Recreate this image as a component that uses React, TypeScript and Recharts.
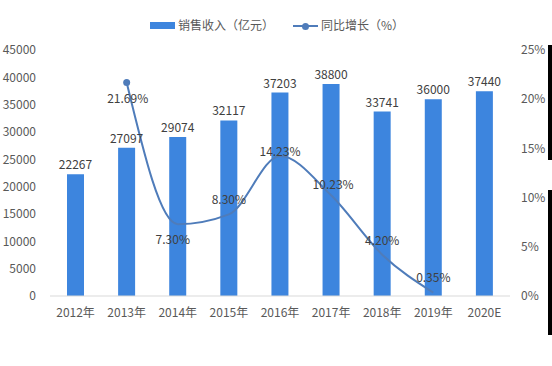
import { Bar, ComposedChart, LabelList, Line, XAxis, YAxis } from "recharts";

const years = ["2012年", "2013年", "2014年", "2015年", "2016年", "2017年", "2018年", "2019年", "2020E"];
const revenue = [22267, 27097, 29074, 32117, 37203, 38800, 33741, 36000, 37440];
const growth: (number | null)[] = [null, 21.69, 7.3, 8.3, 14.23, 10.23, 4.2, 0.35, null];
const leftTicks = [0, 5000, 10000, 15000, 20000, 25000, 30000, 35000, 40000, 45000];
const rightTicks = [0, 5, 10, 15, 20, 25];

// nudges for the growth labels, [dx, dy] per category
const growthLabelShift: [number, number][] = [
  [0, 0], [1, 15], [-5, 14], [0, -16], [0, -5], [2, -12], [0, -15], [0, -16], [0, 0]
];

const barColor = "#3d85de";
const lineColor = "#4f7cba";
const textColor = "#595959";
const font = "'Noto Sans CJK SC', 'Noto Sans', sans-serif";

const data = years.map((year, i) => ({ year, revenue: revenue[i], growth: growth[i] }));

function GrowthLabel(props: any) {
  const { x, y, index, value } = props;
  if (value == null) return null;
  const [dx, dy] = growthLabelShift[index] || [0, 0];
  return (
    <text x={x + dx} y={y + dy} textAnchor="middle" dominantBaseline="central" fontSize={12} fill="#404040" fontFamily={font}>
      {Number(value).toFixed(2)}%
    </text>
  );
}

function GrowthDot(props: any) {
  const { cx, cy, index } = props;
  if (index !== 1 || cy == null) return <g key={index} />;
  return <circle key={index} cx={cx} cy={cy} r={3.5} fill={lineColor} />;
}

export default function App() {
  return (
    <div style={{ position: "absolute", left: 0, top: 0, width: 552, height: 366, background: "#fff", fontFamily: font }}>
      <div style={{ position: "absolute", top: 16, left: 0, width: 552, height: 18, fontSize: 12, color: textColor }}>
        <span style={{ position: "absolute", left: 150, top: 6, width: 25, height: 7, background: barColor }} />
        <span style={{ position: "absolute", left: 178, top: 0 }}>销售收入（亿元）</span>
        <span style={{ position: "absolute", left: 293, top: 9, width: 25, height: 2, background: lineColor }} />
        <span style={{ position: "absolute", left: 302, top: 6.5, width: 7, height: 7, borderRadius: 4, background: lineColor }} />
        <span style={{ position: "absolute", left: 321, top: 0 }}>同比增长（%）</span>
      </div>
      <ComposedChart width={552} height={366} data={data} margin={{ top: 50, right: 0, bottom: 40, left: 0 }}>
        <XAxis
          dataKey="year"
          height={30}
          tickLine={false}
          axisLine={{ stroke: "#d9d9d9" }}
          tickMargin={6}
          tick={{ fontSize: 12, fill: textColor, fontFamily: font }}
          interval={0}
        />
        <YAxis
          yAxisId="left"
          width={50}
          domain={[0, 45000]}
          ticks={leftTicks}
          axisLine={false}
          tickLine={false}
          tickMargin={8}
          tick={{ fontSize: 12, fill: textColor, fontFamily: font }}
        />
        <YAxis
          yAxisId="right"
          orientation="right"
          width={42}
          domain={[0, 25]}
          ticks={rightTicks}
          axisLine={false}
          tickLine={false}
          tickMargin={5}
          tickFormatter={(v: number) => `${v}%`}
          tick={{ fontSize: 12, fill: textColor, fontFamily: font, textAnchor: "start" }}
        />
        <Bar yAxisId="left" dataKey="revenue" fill={barColor} barSize={17} isAnimationActive={false}>
          <LabelList dataKey="revenue" position="top" offset={5} fontSize={12} fill="#404040" fontFamily={font} />
        </Bar>
        <Line
          yAxisId="right"
          dataKey="growth"
          type="monotone"
          stroke={lineColor}
          strokeWidth={2}
          dot={GrowthDot}
          activeDot={false}
          isAnimationActive={false}
        >
          <LabelList dataKey="growth" content={GrowthLabel} />
        </Line>
      </ComposedChart>
      <div style={{ position: "absolute", left: 548, top: 45, width: 4, height: 115, background: "#000" }} />
      <div style={{ position: "absolute", left: 548, top: 190, width: 4, height: 145, background: "#000" }} />
    </div>
  );
}
